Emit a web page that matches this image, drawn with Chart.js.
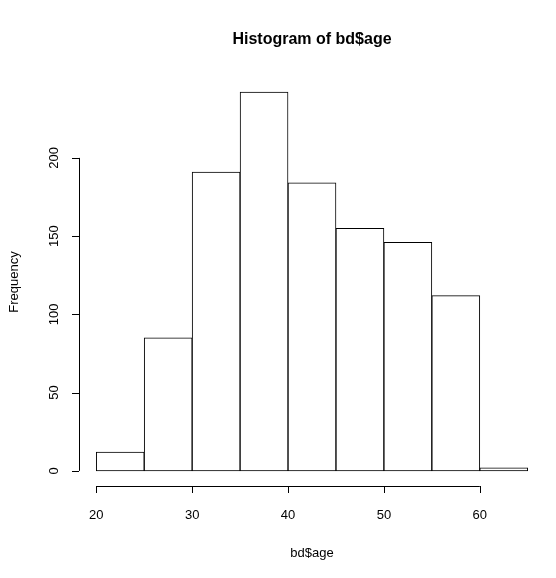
<!DOCTYPE html>
<html>
<head>
<script src="https://cdn.jsdelivr.net/npm/chart.js@4"></script>
<style>
  body { margin: 0; background: #fff; }
  #wrap { width: 556px; height: 578px; }
</style>
</head>
<body>
<div id="wrap"><canvas id="hist" width="556" height="578"></canvas></div>
<script>
// Histogram bins (midpoints) and counts
const binMids = [22.5, 27.5, 32.5, 37.5, 42.5, 47.5, 52.5, 57.5, 62.5];
const counts = [12, 85, 191, 242, 184, 155, 146, 112, 2];
const xTicks = [20, 30, 40, 50, 60];
const yTicks = [0, 50, 100, 150, 200];

const font = '13px Arial, "Liberation Sans", sans-serif';

// R-style axes drawn with the chart's own scales
const rAxes = {
  id: 'rAxes',
  afterDraw(chart) {
    const ctx = chart.ctx;
    const xs = chart.scales.x, ys = chart.scales.y;
    const area = chart.chartArea;
    ctx.save();
    ctx.strokeStyle = '#000';
    ctx.fillStyle = '#000';
    ctx.lineWidth = 1;
    ctx.font = font;

    // x axis
    const ay = area.bottom;
    ctx.beginPath();
    ctx.moveTo(xs.getPixelForValue(xTicks[0]), ay + 0.5);
    ctx.lineTo(xs.getPixelForValue(xTicks[xTicks.length - 1]), ay + 0.5);
    xTicks.forEach(t => {
      const px = Math.round(xs.getPixelForValue(t)) + 0.5;
      ctx.moveTo(px, ay);
      ctx.lineTo(px, ay + 7);
    });
    ctx.stroke();
    ctx.textAlign = 'center';
    ctx.textBaseline = 'top';
    xTicks.forEach(t => ctx.fillText(String(t), xs.getPixelForValue(t), ay + 23));

    // y axis
    const ax = area.left;
    ctx.beginPath();
    ctx.moveTo(ax + 0.5, ys.getPixelForValue(yTicks[0]));
    ctx.lineTo(ax + 0.5, ys.getPixelForValue(yTicks[yTicks.length - 1]));
    yTicks.forEach(t => {
      const py = Math.round(ys.getPixelForValue(t)) + 0.5;
      ctx.moveTo(ax, py);
      ctx.lineTo(ax - 7, py);
    });
    ctx.stroke();
    yTicks.forEach(t => {
      ctx.save();
      ctx.translate(ax - 18, ys.getPixelForValue(t));
      ctx.rotate(-Math.PI / 2);
      ctx.textAlign = 'center';
      ctx.textBaseline = 'bottom';
      ctx.fillText(String(t), 0, 0);
      ctx.restore();
    });

    // labels
    ctx.textAlign = 'center';
    ctx.textBaseline = 'middle';
    ctx.fillText('bd$age', 312, 553);
    ctx.save();
    ctx.translate(14, 282);
    ctx.rotate(-Math.PI / 2);
    ctx.fillText('Frequency', 0, 0);
    ctx.restore();

    ctx.font = 'bold 16px Arial, "Liberation Sans", sans-serif';
    ctx.fillText('Histogram of bd$age', 312, 40);
    ctx.restore();
  }
};

new Chart(document.getElementById('hist'), {
  type: 'bar',
  data: {
    datasets: [{
      data: binMids.map((m, i) => ({ x: m, y: counts[i] })),
      backgroundColor: '#ffffff',
      borderColor: '#000000',
      borderWidth: 1,
      borderSkipped: false,
      barPercentage: 1,
      categoryPercentage: 1
    }]
  },
  options: {
    responsive: false,
    animation: false,
    layout: { padding: { left: 79, right: 11, top: 77, bottom: 92 } },
    plugins: { legend: { display: false }, tooltip: { enabled: false } },
    scales: {
      x: { type: 'linear', offset: false, min: 18.2, max: 66.8, display: false },
      y: { min: -9.68, max: 251.7, display: false }
    }
  },
  plugins: [rAxes]
});
</script>
</body>
</html>
